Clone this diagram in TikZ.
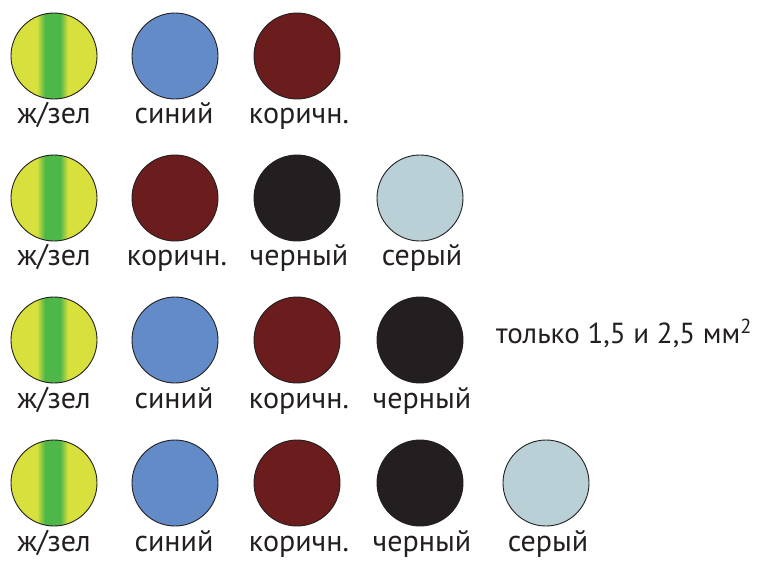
\documentclass[tikz,border=0pt]{standalone}
\usepackage{fontspec}
\setmainfont{PT Sans}
\definecolor{yel}{HTML}{D7E03C}
\definecolor{grn}{HTML}{4DB748}
\definecolor{blu}{HTML}{628BC8}
\definecolor{brn}{HTML}{6B1D1E}
\definecolor{blk}{HTML}{231F20}
\definecolor{gry}{HTML}{B9D1D6}
\tikzset{
  wire/.style={circle,draw=blk,line width=0.9pt,minimum size=86pt,inner sep=0pt},
  pe/.style={wire,path picture={
    \begin{scope}[shift={(path picture bounding box.center)}]
      \fill[yel] (-50,-50) rectangle (50,50);
      \shade[left color=yel,right color=grn] (-17,-50) rectangle (-9,50);
      \fill[grn] (-9.2,-50) rectangle (6.2,50);
      \shade[left color=grn,right color=yel] (6,-50) rectangle (14,50);
    \end{scope}}},
  wblue/.style={wire,fill=blu},
  wbrown/.style={wire,fill=brn},
  wblack/.style={wire,fill=blk},
  wgray/.style={wire,fill=gry},
  lbl/.style={anchor=base,inner sep=0pt,font=\fontsize{30}{36}\selectfont,text=blk}
}
\begin{document}
\begin{tikzpicture}[x=1pt,y=-1pt]
\useasboundingbox (0,0) rectangle (759,563);
% row 1
\node[pe] (a1) at (54,56) {};
\node[wblue] (a2) at (175,56) {};
\node[wbrown] (a3) at (297,56) {};
\node[lbl] (la1) at (54,123) {ж/зел};
\node[lbl] (la2) at (174,123) {синий};
\node[lbl] (la3) at (299,123) {коричн.};
% row 2
\node[pe] (b1) at (54,198) {};
\node[wbrown] (b2) at (175,198) {};
\node[wblack] (b3) at (297,198) {};
\node[wgray] (b4) at (420,198) {};
\node[lbl] (lb1) at (54,265) {ж/зел};
\node[lbl] (lb2) at (177,265) {коричн.};
\node[lbl] (lb3) at (299,265) {черный};
\node[lbl] (lb4) at (422,265) {серый};
% row 3
\node[pe] (c1) at (54,340) {};
\node[wblue] (c2) at (175,340) {};
\node[wbrown] (c3) at (297,340) {};
\node[wblack] (c4) at (420,340) {};
\node[lbl] (lc1) at (54,408) {ж/зел};
\node[lbl] (lc2) at (174,408) {синий};
\node[lbl] (lc3) at (299,408) {коричн.};
\node[lbl] (lc4) at (422,408) {черный};
\node[lbl,anchor=base west,font=\fontsize{29}{35}\selectfont] (note) at (496,343) {только 1,5 и 2,5 мм\textsuperscript{2}};
% row 4
\node[pe] (d1) at (54,483) {};
\node[wblue] (d2) at (175,483) {};
\node[wbrown] (d3) at (297,483) {};
\node[wblack] (d4) at (420,483) {};
\node[wgray] (d5) at (546,483) {};
\node[lbl] (ld1) at (54,551) {ж/зел};
\node[lbl] (ld2) at (174,551) {синий};
\node[lbl] (ld3) at (299,551) {коричн.};
\node[lbl] (ld4) at (422,551) {черный};
\node[lbl] (ld5) at (548,551) {серый};
\end{tikzpicture}
\end{document}
